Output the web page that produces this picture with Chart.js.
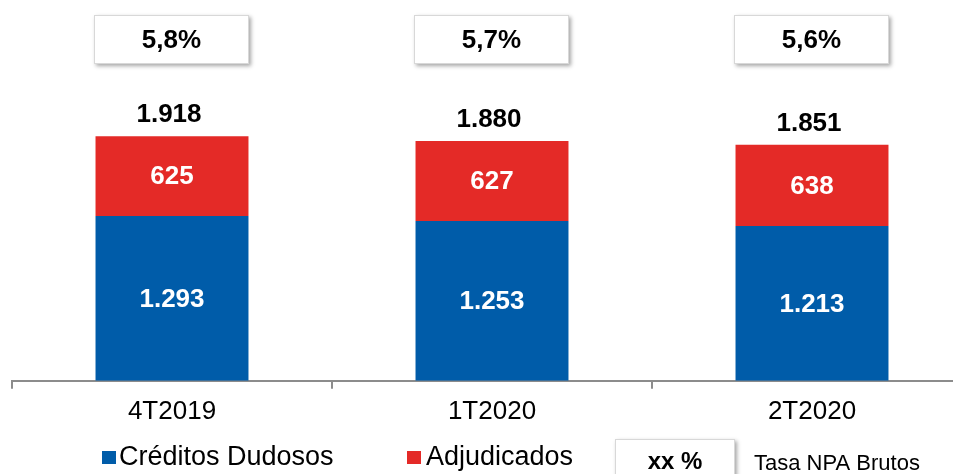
<!DOCTYPE html>
<html>
<head>
<meta charset="utf-8">
<script src="https://cdn.jsdelivr.net/npm/chart.js@4/dist/chart.umd.min.js"></script>
<style>
    html, body { margin: 0; padding: 0; background: #fff; overflow: hidden; }
    #wrap { width: 975px; height: 474px; }
</style>
</head>
<body>
<div id="wrap"><canvas id="npa-chart" width="975" height="474"></canvas></div>
<script>
// Data
const periods = ['4T2019', '1T2020', '2T2020'];
const creditosDudosos = [1293, 1253, 1213];
const adjudicados = [625, 627, 638];
const npaRates = [5.8, 5.7, 5.6];

const BLUE = '#005CA9';
const RED = '#E42A27';
const FONT = '"Liberation Sans", Arial, sans-serif';

function fmtMiles(n) {
    return String(n).replace(/\B(?=(\d{3})+(?!\d))/g, '.');
}

function fmtRate(r) {
    return r.toFixed(1).replace('.', ',') + '%';
}

function drawBox(ctx, x, y, w, h, text, size) {
    ctx.save();
    ctx.shadowColor = 'rgba(0,0,0,0.35)';
    ctx.shadowBlur = 4;
    ctx.shadowOffsetX = 2;
    ctx.shadowOffsetY = 2;
    ctx.fillStyle = '#fff';
    ctx.fillRect(x, y, w, h);
    ctx.restore();
    ctx.save();
    ctx.setLineDash([1, 1]);
    ctx.strokeStyle = '#b0b0b0';
    ctx.lineWidth = 1;
    ctx.strokeRect(x + 0.5, y + 0.5, w - 1, h - 1);
    ctx.restore();
    ctx.save();
    ctx.fillStyle = '#000';
    ctx.font = 'bold ' + size + 'px ' + FONT;
    ctx.textAlign = 'center';
    ctx.textBaseline = 'middle';
    ctx.fillText(text, x + w / 2, y + h / 2 + 1);
    ctx.restore();
}

// Labels inside bars, totals and the rate boxes
const labelsPlugin = {
    id: 'labelsPlugin',
    afterDatasetsDraw(chart) {
        const ctx = chart.ctx;
        const metaBlue = chart.getDatasetMeta(0);
        const metaRed = chart.getDatasetMeta(1);

        ctx.save();
        ctx.font = 'bold 26px ' + FONT;
        ctx.textAlign = 'center';
        ctx.textBaseline = 'middle';

        [metaBlue, metaRed].forEach(function(meta, d) {
            meta.data.forEach(function(bar, i) {
                const v = chart.data.datasets[d].data[i];
                ctx.fillStyle = '#fff';
                ctx.fillText(fmtMiles(v), bar.x, (bar.y + bar.base) / 2 + 1);
            });
        });

        metaRed.data.forEach(function(bar, i) {
            const total = creditosDudosos[i] + adjudicados[i];
            ctx.fillStyle = '#000';
            ctx.fillText(fmtMiles(total), bar.x - 3, bar.y - 21);
        });
        ctx.restore();

        metaRed.data.forEach(function(bar, i) {
            drawBox(ctx, bar.x - 78, 15, 155, 49, fmtRate(npaRates[i]), 26);
        });
    },
    afterDraw(chart) {
        const ctx = chart.ctx;
        ctx.save();
        ctx.textBaseline = 'middle';
        ctx.textAlign = 'left';
        ctx.font = '27px ' + FONT;

        ctx.fillStyle = BLUE;
        ctx.fillRect(102, 451, 14, 13);
        ctx.fillStyle = '#000';
        ctx.fillText('Créditos Dudosos', 119, 458);

        ctx.fillStyle = RED;
        ctx.fillRect(407, 451, 14, 13);
        ctx.fillStyle = '#000';
        ctx.fillText('Adjudicados', 426, 458);
        ctx.restore();

        drawBox(ctx, 615, 439, 120, 45, 'xx %', 24);

        ctx.save();
        ctx.fillStyle = '#000';
        ctx.font = '22px ' + FONT;
        ctx.textBaseline = 'middle';
        ctx.fillText('Tasa NPA Brutos', 754, 464);
        ctx.restore();
    }
};

const npaChart = new Chart(document.getElementById('npa-chart'), {
    type: 'bar',
    data: {
        labels: periods,
        datasets: [{
            label: 'Créditos Dudosos',
            backgroundColor: BLUE,
            data: creditosDudosos
        }, {
            label: 'Adjudicados',
            backgroundColor: RED,
            data: adjudicados
        }]
    },
    options: {
        responsive: false,
        animation: false,
        layout: {
            padding: { left: 12, right: 3, top: 62, bottom: 40 }
        },
        datasets: {
            bar: { barPercentage: 1, categoryPercentage: 0.478 }
        },
        plugins: {
            legend: { display: false },
            tooltip: { enabled: false }
        },
        scales: {
            x: {
                stacked: true,
                border: { color: '#8c8c8c', width: 2 },
                grid: {
                    drawOnChartArea: false,
                    color: '#8c8c8c',
                    lineWidth: 2,
                    tickLength: 8
                },
                ticks: {
                    color: '#000',
                    padding: 7,
                    font: { family: FONT, size: 26 }
                }
            },
            y: {
                stacked: true,
                display: false,
                min: 0,
                max: 2500
            }
        }
    },
    plugins: [labelsPlugin]
});
</script>
</body>
</html>
